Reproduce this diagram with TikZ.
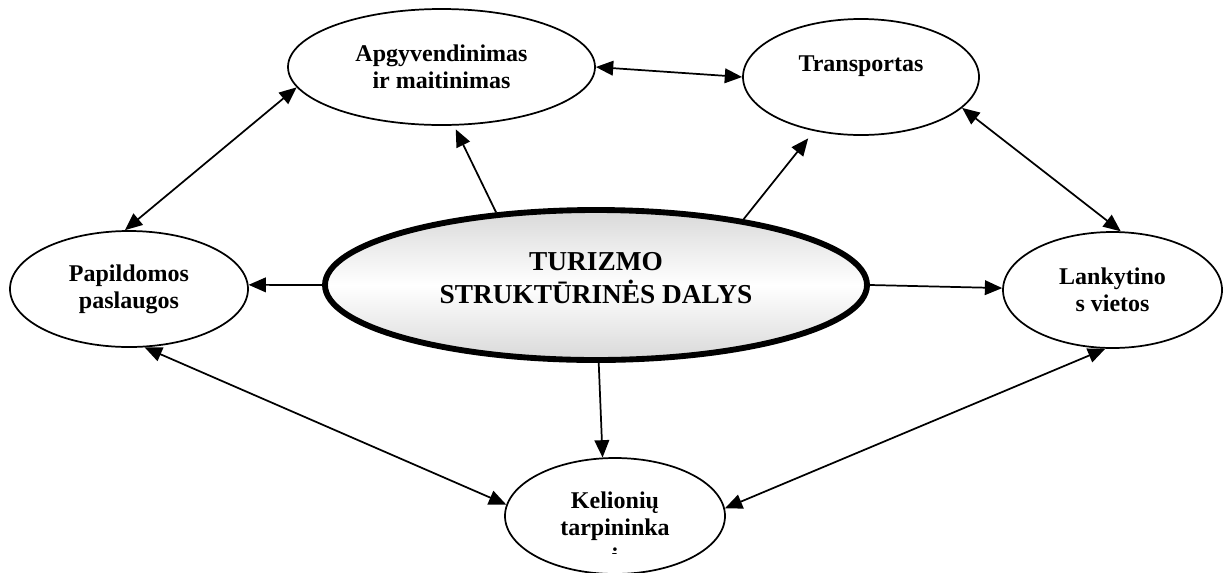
\documentclass[tikz,border=0pt]{standalone}
\usepackage{fontspec}
\setmainfont{Liberation Serif}
\usetikzlibrary{shapes.geometric,arrows.meta}

\pgfdeclareverticalshading{coreshade}{100bp}{color(0bp)=(black!30); color(30bp)=(black!12); color(50bp)=(white); color(70bp)=(black!12); color(100bp)=(black!30)}
\tikzset{
  part/.style={ellipse,draw,line width=1.3pt,inner sep=0pt,minimum height=87pt,align=center,font=\fontsize{18}{20.25}\selectfont\bfseries},
  core/.style={ellipse,draw,line width=4.4pt,inner sep=0pt,shade,shading=coreshade,align=center,font=\fontsize{20.5}{24.75}\selectfont\bfseries},
  link/.style={line width=1.3pt,>={Triangle[length=13pt,width=11pt]}}
}

\begin{document}
\begin{tikzpicture}[x=0.75pt,y=-0.75pt]
\useasboundingbox (0,0) rectangle (1224,572);
%ellipses
\node[core,minimum width=406.5pt,minimum height=112.5pt,text depth=10pt] (cen) at (596,285) {TURIZMO\\STRUKTŪRINĖS DALYS};
\node[part,minimum width=230.25pt] (apg) at (441.5,67) {Apgyvendinimas\\ir maitinimas};
\node[part,minimum width=177pt] (tra) at (861,77) {Transportas\\\mbox{}};
\node[part,minimum width=178.5pt] (pap) at (129,289) {Papildomos\\paslaugos};
\node[part,minimum width=164.25pt] (lan) at (1112.5,290) {Lankytino\\s vietos};
\node[part,minimum width=165pt] (kel) at (615,516) {Kelionių\\tarpininka};
\begin{scope}
  \clip (500,440) rectangle (730,553);
  \node[font=\fontsize{18}{20.25}\selectfont\bfseries,anchor=base,inner sep=0pt] (kelrest) at (615,564) {i};
\end{scope}
%arrows between parts
\draw[link,<->] (apg.0) -- (tra.180);
\draw[link,<->] (apg.188) -- (pap.94);
\draw[link,<->] (tra.-17) -- (lan.82);
\draw[link,<->] (pap.-75) -- (kel.174);
\draw[link,<->] (lan.-97) -- (kel.4);
%arrows from the core
\draw[link,->] (cen.180) -- (pap.2);
\draw[link,->] (cen.0) -- (lan.179);
\draw[link,->,shorten >=3pt] (cen.144) -- (apg.-78);
\draw[link,->,shorten >=7pt] (cen.24) -- (tra.229);
\draw[link,->] (cen.-88) -- (kel.102);
\end{tikzpicture}
\end{document}
